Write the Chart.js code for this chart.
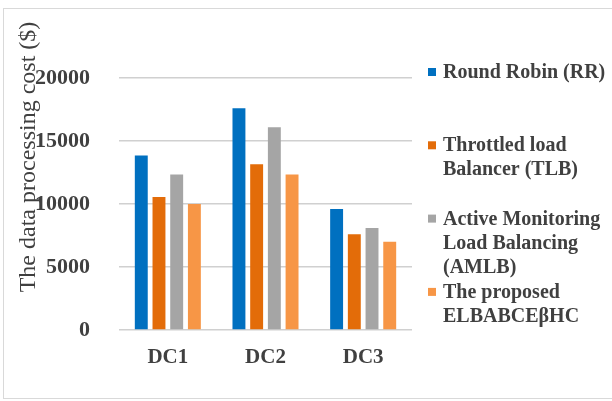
<!DOCTYPE html>
<html>
<head>
<meta charset="utf-8">
<script src="https://cdn.jsdelivr.net/npm/chart.js@4/dist/chart.umd.min.js"></script>
<style>
  html, body { margin: 0; padding: 0; background: #ffffff; }
  #wrap { position: relative; width: 612px; height: 401px; }
  #frame { position: absolute; left: 3px; top: 8px; width: 610px; height: 391px; border: 1px solid #d9d9d9; box-sizing: border-box; }
  canvas { position: absolute; left: 0; top: 0; }
</style>
</head>
<body>
<div id="wrap">
  <div id="frame"></div>
  <canvas id="c" width="612" height="401"></canvas>
</div>
<script>
const categories = ["DC1", "DC2", "DC3"];
const seriesLabels = [
  ["Round Robin (RR)"],
  ["Throttled load", "Balancer (TLB)"],
  ["Active Monitoring", "Load Balancing", "(AMLB)"],
  ["The proposed", "ELBABCEβHC"]
];
const rrValues   = [13850, 17600, 9600];
const tlbValues  = [10550, 13150, 7600];
const amlbValues = [12350, 16100, 8100];
const propValues = [10000, 12350, 7000];
const yTicks = [0, 5000, 10000, 15000, 20000];
const axisTitle = "The data processing cost ($)";
const colors = ["#0070C0", "#E36C09", "#A5A5A5", "#F79646"];

const serif = "'Liberation Serif', 'Times New Roman', serif";
const textColor = "#404040";

const legendPlugin = {
  id: 'customLegend',
  afterDraw(chart) {
    const ctx = chart.ctx;
    ctx.save();
    ctx.font = "bold 20px " + serif;
    ctx.textBaseline = "middle";
    ctx.textAlign = "left";
    const x0 = 428, y0 = 72, itemGap = 73.3, lineGap = 24;
    chart.data.datasets.forEach((ds, i) => {
      const y = y0 + i * itemGap;
      ctx.fillStyle = ds.backgroundColor;
      ctx.fillRect(x0, y - 4, 8, 8);
      ctx.fillStyle = textColor;
      ds.legendLines.forEach((line, j) => {
        ctx.fillText(line, x0 + 15, y + 1 + j * lineGap);
      });
    });
    // axis title
    ctx.font = "24px " + serif;
    ctx.translate(29, 157);
    ctx.rotate(-Math.PI / 2);
    ctx.textAlign = "center";
    ctx.fillText(axisTitle, 0, 0);
    ctx.restore();
  }
};

const allValues = [rrValues, tlbValues, amlbValues, propValues];
new Chart(document.getElementById('c'), {
  type: 'bar',
  data: {
    labels: categories,
    datasets: allValues.map((vals, i) => ({
      label: seriesLabels[i].join(' '),
      legendLines: seriesLabels[i],
      data: vals,
      backgroundColor: colors[i],
      borderWidth: 0,
      categoryPercentage: 0.725,
      barPercentage: 0.73
    }))
  },
  options: {
    responsive: false,
    animation: false,
    devicePixelRatio: 1,
    layout: { padding: { left: 0, right: 200, top: 78, bottom: 0 } },
    plugins: { legend: { display: false }, tooltip: { enabled: false } },
    scales: {
      x: {
        grid: { display: false, drawTicks: false },
        border: { display: false },
        ticks: { color: textColor, font: { family: serif, size: 21, weight: 'bold' }, padding: 15 },
        afterFit(scale) { scale.height = 71; }
      },
      y: {
        min: 0, max: 20000,
        afterBuildTicks(scale) { scale.ticks = yTicks.map(v => ({ value: v })); },
        grid: { color: "#d0d0d0", lineWidth: 1.5, drawTicks: false },
        border: { display: false },
        ticks: {
          color: textColor, font: { family: serif, size: 22, weight: 'bold' }, padding: 29,
          callback: (v) => String(v)
        },
        afterFit(scale) { scale.width = 119; }
      }
    }
  },
  plugins: [legendPlugin]
});
</script>
</body>
</html>
